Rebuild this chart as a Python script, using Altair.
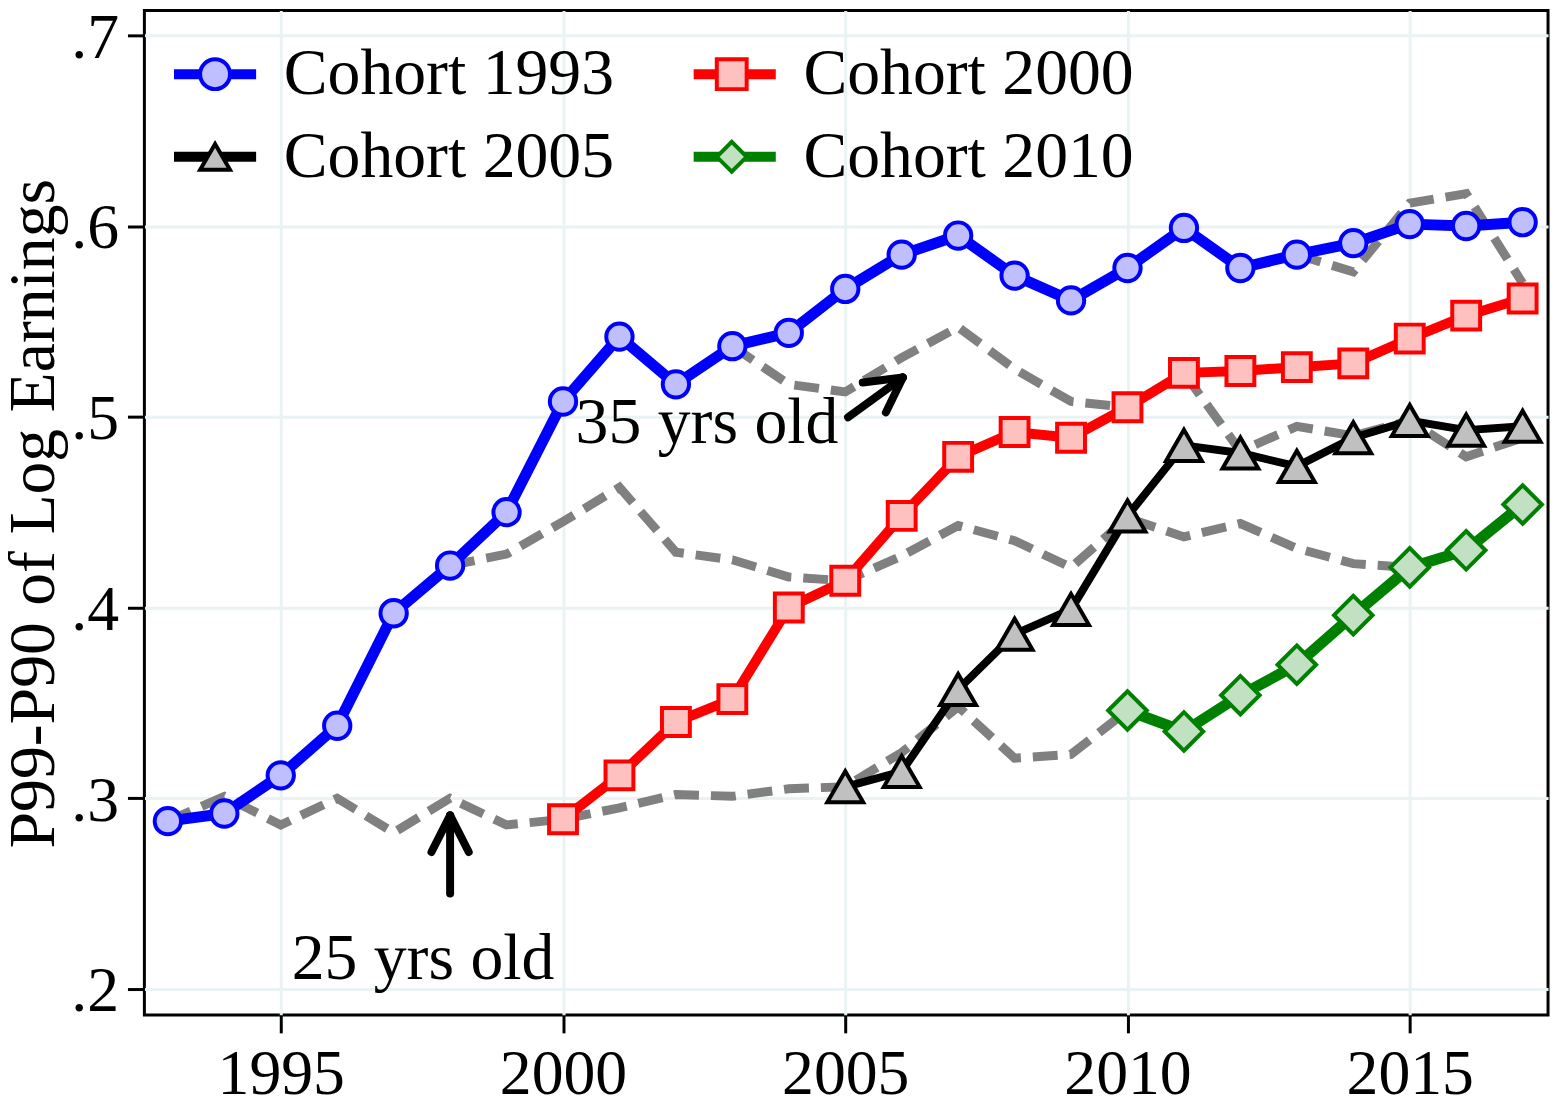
import altair as alt
import pandas as pd

# cohort series (P99-P90 of log earnings), one value per year from the cohort's start year
cohorts = ["Cohort 1993", "Cohort 2000", "Cohort 2005", "Cohort 2010"]
cohort_start = [1993, 2000, 2005, 2010]
c1993 = [.288, .292, .312, .338, .397, .422, .450, .508, .542, .517, .537, .544, .567,
         .585, .595, .574, .561, .578, .599, .578, .585, .591, .601, .600, .602]
c2000 = [.289, .312, .340, .352, .400, .414, .448, .479, .492, .489, .505, .523, .524,
         .526, .528, .541, .553, .562]
c2005 = [.306, .314, .357, .386, .399, .448, .485, .481, .474, .489, .498, .493, .495]
c2010 = [.346, .335, .354, .370, .396, .421, .430, .454]

# fixed-age profiles (grey dashed lines)
ages = ["25", "30", "35", "45"]
age_start = [1993, 1998, 2003, 2013]
age25 = [.288, .301, .286, .300, .282, .300, .286, .289, .295, .302, .301, .305, .306,
         .324, .348, .321, .323, .346]
age30 = [.422, .428, .445, .463, .429, .425, .416, .414, .427, .443, .435, .421, .447,
         .437, .444, .431, .423, .421]
age35 = [.537, .517, .513, .531, .547, .525, .508, .505, .523, .482, .495, .490, .498,
         .479, .489]
age45 = [.585, .576, .612, .617, .570]

# annotations
note_text = ["25 yrs old", "35 yrs old"]
note_x = [1997.52, 2002.55]
note_y = [.2052, .4860]
arrow_x1 = [1998.0, 1997.67, 1998.33, 2005.05, 2005.31, 2005.72]
arrow_y1 = [.250, .2718, .2718, .4997, .5180, .5023]
arrow_x2 = [1998.0, 1998.0, 1998.0, 2006.02, 2006.02, 2006.02]
arrow_y2 = [.291, .291, .291, .5206, .5206, .5206]

FONT = "Liberation Serif"

rows = []
for name, start, vals in zip(cohorts, cohort_start, [c1993, c2000, c2005, c2010]):
    for i, v in enumerate(vals):
        rows.append({"year": start + i, "value": v, "cohort": name, "cohort_m": name})
series = pd.DataFrame(rows)

rows = []
for name, start, vals in zip(ages, age_start, [age25, age30, age35, age45]):
    for i, v in enumerate(vals):
        rows.append({"year": start + i, "value": v, "age": name})
profiles = pd.DataFrame(rows)

notes = pd.DataFrame({"text": note_text, "year": note_x, "value": note_y})
arrows = pd.DataFrame({"year": arrow_x1, "value": arrow_y1, "year2": arrow_x2, "value2": arrow_y2})

X = alt.X("year:Q", scale=alt.Scale(domain=[1992.584, 2017.45], nice=False, zero=False),
          axis=alt.Axis(
              values=[1995, 2000, 2005, 2010, 2015], format="d", title=None,
              labelFont=FONT, labelFontSize=64, labelColor="black", labelPadding=10,
              tickSize=18, tickWidth=3, tickColor="black", domain=False,
              grid=True, gridColor="#eaf2f3", gridWidth=3))
Y = alt.Y("value:Q", scale=alt.Scale(domain=[0.1864, 0.713], nice=False, zero=False),
          axis=alt.Axis(
              values=[0.2, 0.3, 0.4, 0.5, 0.6, 0.7],
              labelExpr="slice(format(datum.value, '.1f'), 1)",
              labelFont=FONT, labelFontSize=64, labelColor="black", labelPadding=9,
              labelOffset=3, tickSize=17, tickWidth=3, tickColor="black", domain=False,
              grid=True, gridColor="#eaf2f3", gridWidth=3,
              title="P99-P90 of Log Earnings", titleFont=FONT, titleFontSize=66,
              titleFontWeight="normal", titleColor="black", titleAngle=270,
              titleX=-91, titleY=505, titleAlign="center", titleBaseline="alphabetic"))

line_colors = ["#0000ff", "#ff0000", "#000000", "#008000"]
fill_colors = ["#bfbfff", "#ffc0c0", "#c0c0c0", "#c2e0c2"]

dashed = alt.Chart(profiles).mark_line(
    color="#808080", strokeWidth=9, strokeDash=[25, 12]
).encode(x=X, y=Y, detail="age:N")

legend_common = dict(
    orient="none", direction="horizontal", legendX=38, legendY=31, columns=2,
    rowPadding=17, padding=0, title=None, labelFont=FONT, labelFontSize=66,
    labelColor="black", labelLimit=1000, symbolSize=900,
)

lines = alt.Chart(series).mark_line(strokeJoin="round").encode(
    x=X, y=Y,
    color=alt.Color("cohort:N", scale=alt.Scale(domain=cohorts, range=line_colors),
                    legend=alt.Legend(symbolType="M-2.75,0H2.75", symbolStrokeWidth=10,
                                      labelOffset=36, columnPadding=59, **legend_common)),
    strokeWidth=alt.StrokeWidth("cohort:N", scale=alt.Scale(
        type="ordinal", domain=cohorts, range=[11, 10, 8, 11]), legend=None),
)

# marker legend drawn over the line legend, without its own labels
points = alt.Chart(series).mark_point(filled=True, opacity=1, strokeWidth=4).encode(
    x=X, y=Y,
    shape=alt.Shape("cohort_m:N", scale=alt.Scale(
        domain=cohorts, range=["circle", "square", "triangle-up", "diamond"]),
        legend=alt.Legend(symbolStrokeWidth=4, labelOffset=42, columnPadding=411,
                          labelExpr="''", **legend_common)),
    fill=alt.Fill("cohort_m:N", scale=alt.Scale(domain=cohorts, range=fill_colors)),
    stroke=alt.Stroke("cohort_m:N", scale=alt.Scale(domain=cohorts, range=line_colors)),
    size=alt.Size("cohort_m:N", scale=alt.Scale(
        type="ordinal", domain=cohorts, range=[700, 784, 1300, 1500]), legend=None),
)

arrow_marks = alt.Chart(arrows).mark_rule(color="black", strokeWidth=8, strokeCap="round").encode(
    x=X, y=Y, x2="year2:Q", y2="value2:Q",
)

note_marks = alt.Chart(notes).mark_text(
    font=FONT, fontSize=66, color="black", align="center", baseline="alphabetic"
).encode(x=X, y=Y, text="text:N")

chart = alt.layer(dashed, lines, points, arrow_marks, note_marks).properties(
    width=1410,
    height=1009,
    autosize=alt.AutoSizeParams(type="none"),
    padding={"left": 137, "top": 0, "right": 8, "bottom": 90},
    background="white",
).configure_view(
    stroke="black", strokeWidth=3
).resolve_scale(
    color="independent", fill="independent", stroke="independent", shape="independent"
)

chart.save("out.html", embed_options={"renderer": "svg", "actions": False})
